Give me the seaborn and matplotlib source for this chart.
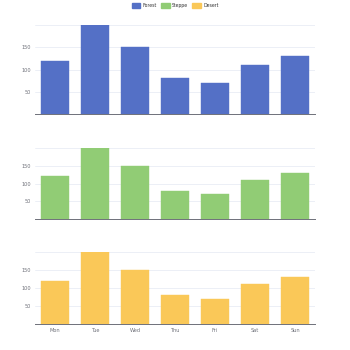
import matplotlib
matplotlib.use("Agg")
import matplotlib.pyplot as plt
import seaborn as sns
import pandas as pd
from matplotlib.patches import Patch

days = ["Mon", "Tue", "Wed", "Thu", "Fri", "Sat", "Sun"]
series_names = ["Forest", "Steppe", "Desert"]
forest = [120, 200, 150, 80, 70, 110, 130]
steppe = [120, 200, 150, 80, 70, 110, 130]
desert = [120, 200, 150, 80, 70, 110, 130]
colors = ["#5470c6", "#91cc75", "#fac858"]
y_ticks = [50, 100, 150, 200]
y_labels = ["50", "100", "150", ""]

sns.set_theme(style="white")
plt.rcParams["font.family"] = ["DejaVu Sans"]

fig = plt.figure(figsize=(3.5, 3.5), dpi=100)
W = H = 350.0
panels = [(25, 114), (148, 219), (252, 324)]
values = [forest, steppe, desert]

for i, ((top, bottom), vals, col, name) in enumerate(zip(panels, values, colors, series_names)):
    ax = fig.add_axes([35 / W, 1 - bottom / H, 280 / W, (bottom - top) / H])
    df = pd.DataFrame({"day": days, "value": vals})
    sns.barplot(data=df, x="day", y="value", color=col, width=0.68, ax=ax,
                saturation=1, edgecolor=col, linewidth=0.3)
    ax.set_ylim(0, 200)
    ax.set_xlim(-0.5, 6.5)
    ax.set_yticks(y_ticks)
    ax.set_yticklabels(y_labels)
    ax.set_xlabel("")
    ax.set_ylabel("")
    ax.grid(axis="y", color="#E9EDF5", linewidth=0.6)
    ax.set_axisbelow(True)
    for s in ["top", "right", "left"]:
        ax.spines[s].set_visible(False)
    ax.spines["bottom"].set_color("#6E7079")
    ax.spines["bottom"].set_linewidth(0.7)
    ax.tick_params(axis="y", length=0, labelsize=3.6, labelcolor="#6E7079", pad=3)
    if i == 2:
        ax.set_xticks([x + 0.5 for x in range(-1, 7)], minor=True)
        ax.tick_params(axis="x", which="minor", length=2, width=0.5, color="#6E7079", direction="out")
        ax.tick_params(axis="x", which="major", length=0, labelsize=3.6, labelcolor="#6E7079", pad=3)
    else:
        ax.set_xticks(range(7))
        ax.set_xticklabels([])
        ax.tick_params(axis="x", length=0)

handles = [Patch(facecolor=c, edgecolor=c) for c in colors]
leg = fig.legend(handles, series_names, loc="upper center", bbox_to_anchor=(0.5, 1.0),
                 ncol=3, frameon=False, fontsize=3.3, handlelength=1.9, handleheight=1.3,
                 columnspacing=0.9, handletextpad=0.5, borderaxespad=0.25)
for t in leg.get_texts():
    t.set_color("#333333")

fig.savefig("out.png", dpi=100)
